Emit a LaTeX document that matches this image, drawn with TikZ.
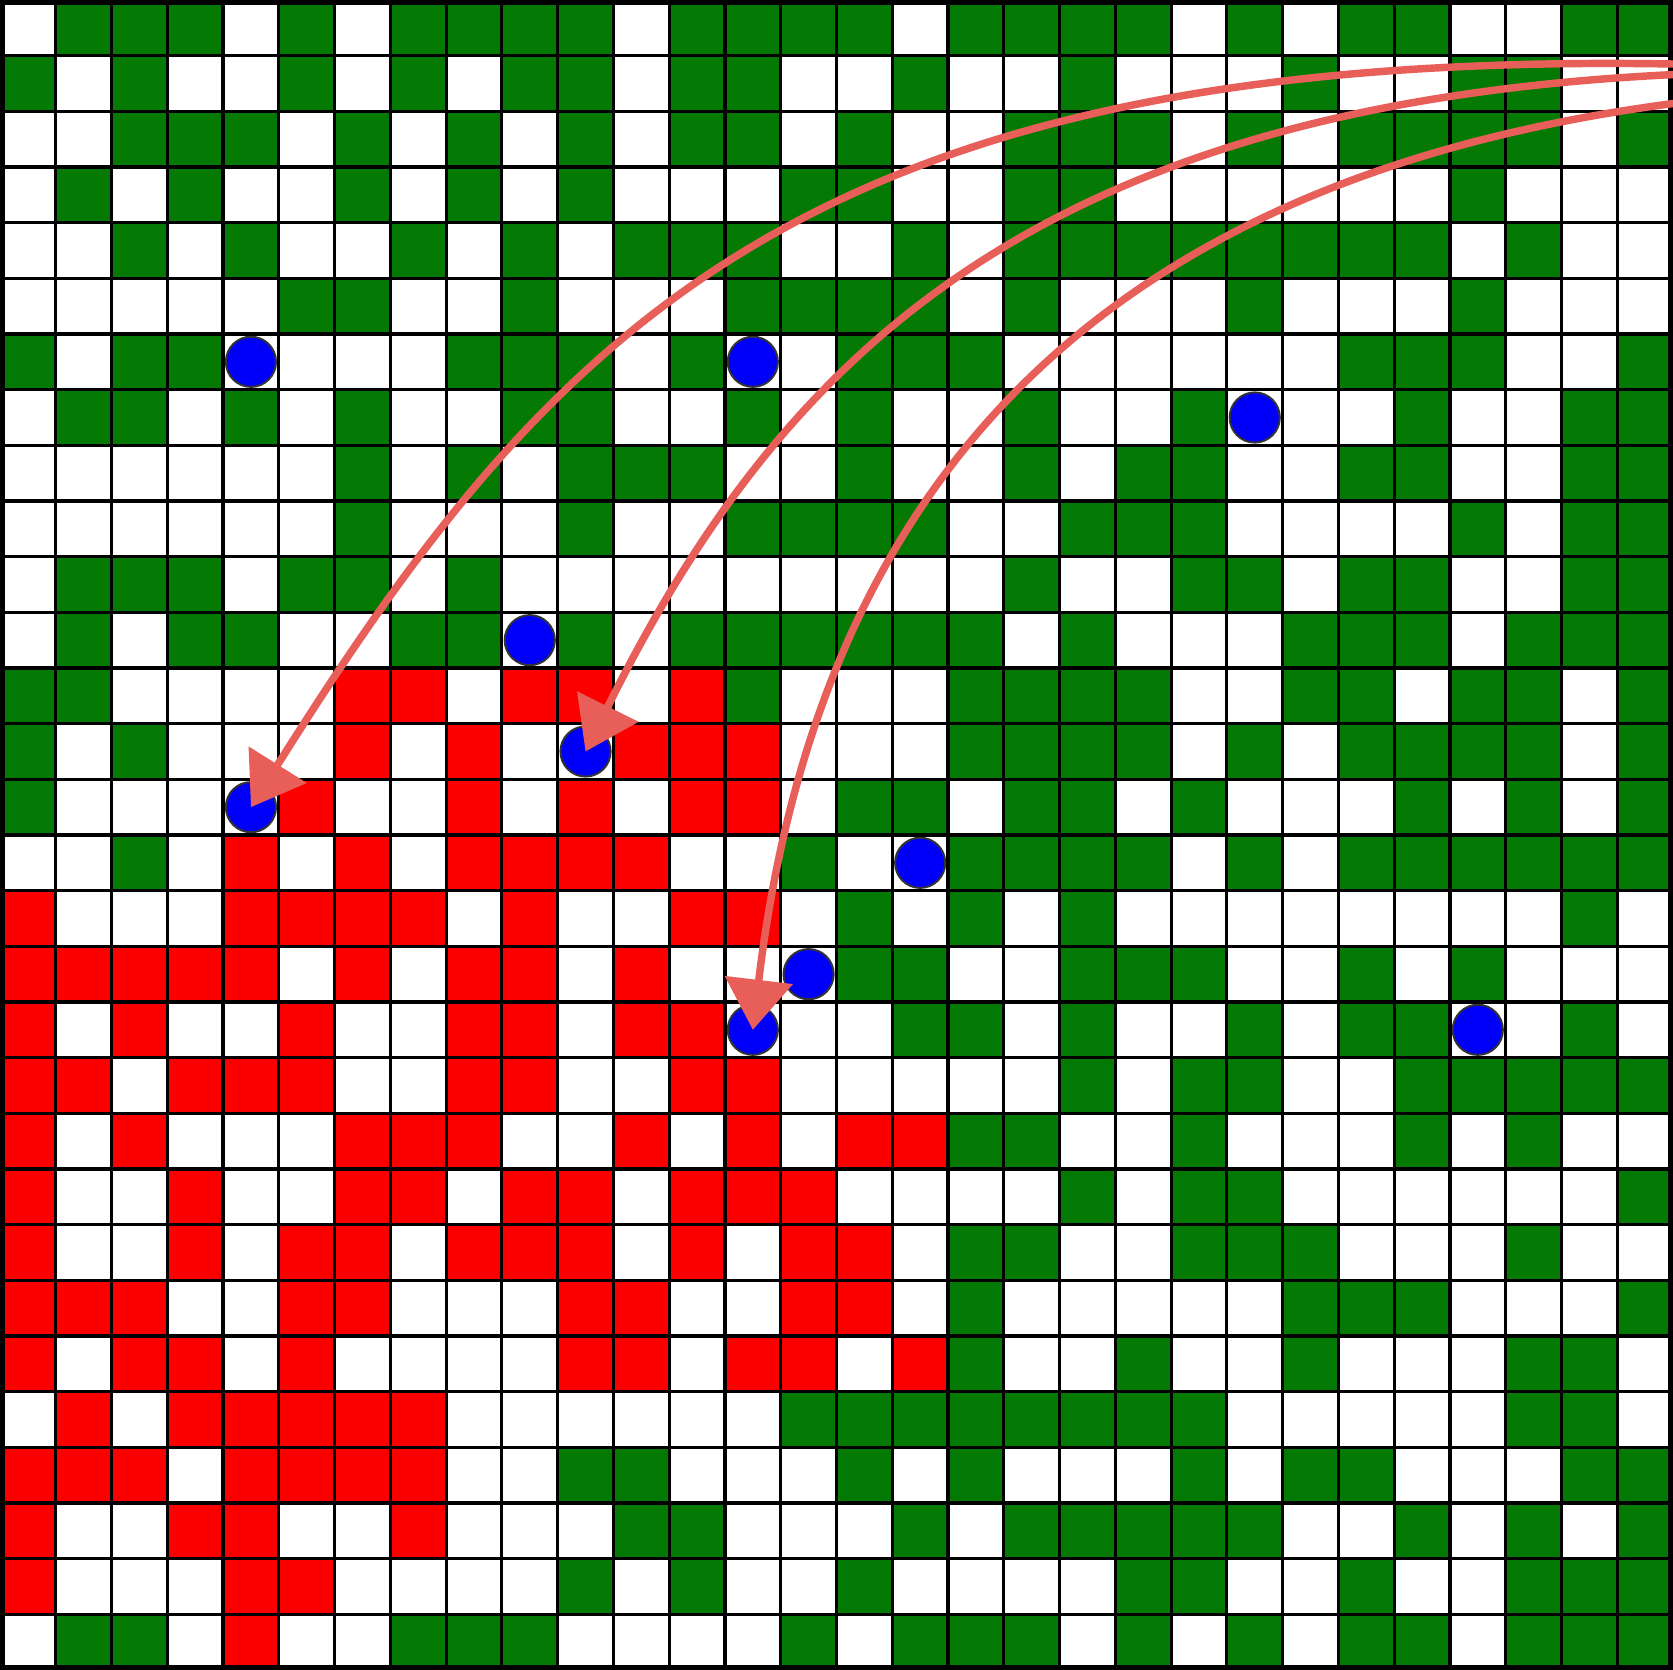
\documentclass[tikz,border=0pt]{standalone}
\usetikzlibrary{arrows.meta}
\definecolor{cgreen}{RGB}{4,122,4}
\definecolor{cred}{RGB}{252,0,0}
\definecolor{cblue}{RGB}{0,0,250}
\definecolor{carrow}{RGB}{232,94,88}
\tikzset{
  gcell/.style={fill=cgreen},
  rcell/.style={fill=cred},
  gline/.style={draw=black, line width=0.8pt},
  agent/.style={circle, fill=cblue, draw=black!80, line width=0.5pt, minimum size=0.45cm, inner sep=0pt},
  arr/.style={draw=carrow, line width=1.9pt, line cap=round, -{Triangle[length=0.45cm,width=0.6cm]}}
}
\newcommand{\grow}[2]{\foreach \c in {#2} {\fill[gcell] (\c,#1) rectangle ++(1,1);}}
\newcommand{\rrow}[2]{\foreach \c in {#2} {\fill[rcell] (\c,#1) rectangle ++(1,1);}}
\begin{document}
\begin{tikzpicture}[x=0.5cm,y=-0.4991cm]
\useasboundingbox (0,0) rectangle (30,30);
\fill[white] (0,0) rectangle (30,30);
% green cells
\grow{0}{1,2,3,5,7,8,9,10,12,13,14,15,17,18,19,20,22,24,25,28,29}
\grow{1}{0,2,5,7,9,10,12,13,16,19,23,26,27}
\grow{2}{2,3,4,6,8,10,12,13,15,18,19,20,22,24,25,26,27,29}
\grow{3}{1,3,6,8,10,14,15,18,19,26}
\grow{4}{2,4,7,9,11,12,13,16,18,19,20,21,22,23,24,25,27}
\grow{5}{5,6,9,13,14,15,16,18,22,26}
\grow{6}{0,2,3,8,9,10,12,15,16,17,24,25,26,29}
\grow{7}{1,2,4,6,9,10,13,15,18,21,25,28,29}
\grow{8}{6,8,10,11,12,15,18,20,21,24,25,28,29}
\grow{9}{6,10,13,14,15,16,19,20,21,26,28,29}
\grow{10}{1,2,3,5,6,8,18,21,22,24,25,28,29}
\grow{11}{1,3,4,7,8,10,12,13,14,15,16,17,19,23,24,25,27,28,29}
\grow{12}{0,1,13,17,18,19,20,23,24,26,27,29}
\grow{13}{0,2,17,18,19,20,22,24,25,26,27,29}
\grow{14}{0,15,16,18,19,21,25,27,29}
\grow{15}{2,14,17,18,19,20,22,24,25,26,27,28,29}
\grow{16}{15,17,19,28}
\grow{17}{15,16,19,20,21,24,26}
\grow{18}{16,17,19,22,24,25,28}
\grow{19}{19,21,22,25,26,27,28,29}
\grow{20}{17,18,21,25,27}
\grow{21}{19,21,22,29}
\grow{22}{17,18,21,22,23,27}
\grow{23}{17,23,24,25,29}
\grow{24}{17,20,23,27,28}
\grow{25}{14,15,16,17,18,19,20,21,27,28}
\grow{26}{10,11,15,17,21,23,24,28,29}
\grow{27}{11,12,16,18,19,20,21,22,25,27,29}
\grow{28}{10,12,15,20,21,24,27,28,29}
\grow{29}{1,2,7,8,9,14,16,17,18,20,22,24,25,27,28,29}
% red cells
\rrow{12}{6,7,9,10,12}
\rrow{13}{6,8,11,12,13}
\rrow{14}{5,8,10,12,13}
\rrow{15}{4,6,8,9,10,11}
\rrow{16}{0,4,5,6,7,9,12,13}
\rrow{17}{0,1,2,3,4,6,8,9,11}
\rrow{18}{0,2,5,8,9,11,12}
\rrow{19}{0,1,3,4,5,8,9,12,13}
\rrow{20}{0,2,6,7,8,11,13,15,16}
\rrow{21}{0,3,6,7,9,10,12,13,14}
\rrow{22}{0,3,5,6,8,9,10,12,14,15}
\rrow{23}{0,1,2,5,6,10,11,14,15}
\rrow{24}{0,2,3,5,10,11,13,14,16}
\rrow{25}{1,3,4,5,6,7}
\rrow{26}{0,1,2,4,5,6,7}
\rrow{27}{0,3,4,7}
\rrow{28}{0,4,5}
\rrow{29}{4}
% grid lines
\foreach \i in {1,...,29} {
  \draw[gline] (\i,0) -- (\i,30);
  \draw[gline] (0,\i) -- (30,\i);
}
\draw[draw=black, line width=2.4pt] (0,0) rectangle (30,30);
% agents
\node[agent] (a1) at (4.5,6.5) {};
\node[agent] (a2) at (13.5,6.5) {};
\node[agent] (a3) at (22.5,7.5) {};
\node[agent] (a4) at (9.5,11.5) {};
\node[agent] (a5) at (10.5,13.5) {};
\node[agent] (a6) at (4.5,14.5) {};
\node[agent] (a7) at (16.5,15.5) {};
\node[agent] (a8) at (14.5,17.5) {};
\node[agent] (a9) at (13.5,18.5) {};
\node[agent] (a10) at (26.5,18.5) {};
% arrows
\coordinate (sA) at (30,1.15);
\coordinate (sB) at (30,1.34);
\coordinate (sC) at (30,1.86);
\draw[arr] (sA) .. controls (14.5,0.88) and (9.9,5.9) .. (a6.center);
\draw[arr] (sB) .. controls (18.5,1.9) and (13.99,6.45) .. (a5.center);
\draw[arr] (sC) .. controls (20.6,3.1) and (14.77,7.86) .. (a9.center);
\end{tikzpicture}
\end{document}
